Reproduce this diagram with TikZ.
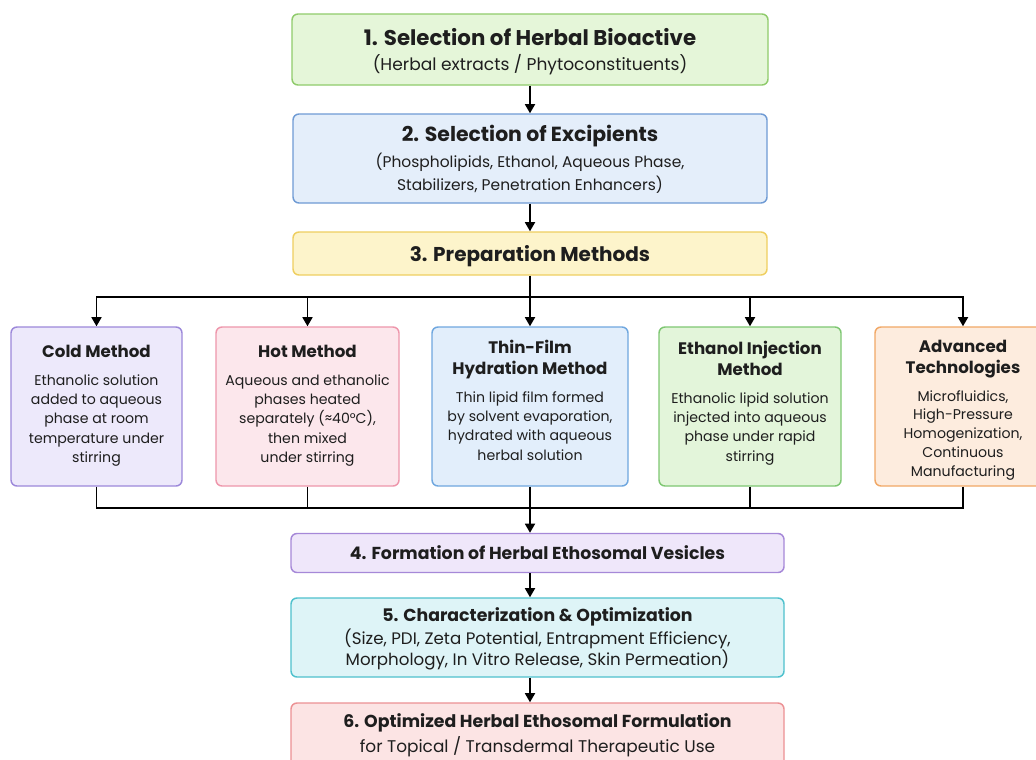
\documentclass[tikz,border=0pt]{standalone}
\usepackage{fontspec}
\setmainfont{Poppins}
\usetikzlibrary{arrows.meta}
\definecolor{fA}{HTML}{E5F6D9}\definecolor{dA}{HTML}{8FCB6B}
\definecolor{fB}{HTML}{E4EEFA}\definecolor{dB}{HTML}{6F9BD4}
\definecolor{fC}{HTML}{FDF4CB}\definecolor{dC}{HTML}{EFCF60}
\definecolor{fCold}{HTML}{EDE9FB}\definecolor{dCold}{HTML}{9C88DA}
\definecolor{fHot}{HTML}{FCE7EC}\definecolor{dHot}{HTML}{EE96AB}
\definecolor{fThin}{HTML}{E2EEFB}\definecolor{dThin}{HTML}{6FA7DF}
\definecolor{fEth}{HTML}{E3F5DA}\definecolor{dEth}{HTML}{7EC772}
\definecolor{fAdv}{HTML}{FDECDE}\definecolor{dAdv}{HTML}{F1A866}
\definecolor{fD}{HTML}{EFE7FA}\definecolor{dD}{HTML}{A688D8}
\definecolor{fE}{HTML}{DEF4F7}\definecolor{dE}{HTML}{4FC1CD}
\definecolor{fF}{HTML}{FCE4E4}\definecolor{dF}{HTML}{EC9194}
\definecolor{txt}{HTML}{1E1E1E}
\newcommand\hT[2]{{\fontsize{#1}{#1}\selectfont\bfseries #2}}
\newcommand\sT[2]{{\fontsize{#1}{#1}\selectfont #2}}
\newcommand\mT[1]{{\fontsize{12.5}{12.5}\selectfont\bfseries #1}}
\newcommand\mB[1]{{\fontsize{10.6}{10.6}\selectfont #1}}
\newcommand\up[1]{\rule{0pt}{#1}}
\newcommand\dn[1]{\rule[-#1]{0pt}{0pt}}
\begin{document}
\begin{tikzpicture}[x=0.75pt,y=-0.75pt,
  stepbox/.style={rounded corners=4.5pt, line width=1.1pt, align=center, inner sep=0pt, text=txt},
  mbox/.style={stepbox, minimum height=119.25pt, font=\fontsize{10.6}{14.4}\selectfont},
  conn/.style={line width=1.3pt, black},
  arr/.style={conn, -{Triangle[width=7.5pt,length=6.8pt]}}]
\useasboundingbox (0,0) rectangle (1036,760);
\fill[white] (0,0) rectangle (1036,760);
% main boxes
\node[stepbox, fill=fA, draw=dA, minimum width=357pt, minimum height=53.25pt, font=\fontsize{12}{17.25}\selectfont] (b1) at (530,49.5)
  {\up{16.5pt}\hT{16}{1. Selection of Herbal Bioactive}\\[1.5pt] \sT{12.8}{(Herbal extracts / Phytoconstituents)}};
\node[stepbox, fill=fB, draw=dB, minimum width=355.5pt, minimum height=66.75pt, font=\fontsize{12}{17.25}\selectfont] (b2) at (530,158.5)
  {\up{13.5pt}\hT{15.3}{2. Selection of Excipients}\\[2.25pt] \sT{11.6}{(Phospholipids, Ethanol, Aqueous Phase,}\\ \sT{11.6}{Stabilizers, Penetration Enhancers)}};
\node[stepbox, fill=fC, draw=dC, minimum width=355.5pt, minimum height=32.25pt] (b3) at (530,253.5)
  {\up{15.5pt}\hT{15}{3. Preparation Methods}};
% method boxes
\node[mbox, fill=fCold, draw=dCold, minimum width=128.25pt] (cold) at (96.5,406.5)
  {\mT{Cold Method}\\[7pt] \mB{Ethanolic solution}\\ \mB{added to aqueous}\\ \mB{phase at room}\\ \mB{temperature under}\\ \mB{stirring}\dn{4.5pt}};
\node[mbox, fill=fHot, draw=dHot, minimum width=137.25pt] (hot) at (307.5,406.5)
  {\mT{Hot Method}\\[7pt] \mB{Aqueous and ethanolic}\\ \mB{phases heated}\\ \mB{separately (≈40°C),}\\ \mB{then mixed}\\ \mB{under stirring}\dn{4.5pt}};
\node[mbox, fill=fThin, draw=dThin, minimum width=147pt] (thin) at (530,406.5)
  {\mT{Thin-Film}\\[1.4pt] \mT{Hydration Method}\\[6.6pt] \mB{Thin lipid film formed}\\ \mB{by solvent evaporation,}\\ \mB{hydrated with aqueous}\\ \mB{herbal solution}\dn{9.5pt}};
\node[mbox, fill=fEth, draw=dEth, minimum width=136.5pt] (eth) at (750,406.5)
  {\mT{Ethanol Injection}\\[1.4pt] \mT{Method}\\[6.6pt] \mB{Ethanolic lipid solution}\\ \mB{injected into aqueous}\\ \mB{phase under rapid}\\ \mB{stirring}\dn{8pt}};
\node[mbox, fill=fAdv, draw=dAdv, minimum width=132pt, font=\fontsize{10.6}{14.1}\selectfont] (adv) at (963,406.5)
  {\up{15pt}\mT{Advanced}\\[1.4pt] \mT{Technologies}\\[6.6pt] \mB{Microfluidics,}\\ \mB{High-Pressure}\\ \mB{Homogenization,}\\ \mB{Continuous}\\ \mB{Manufacturing}};
% lower boxes
\node[stepbox, fill=fD, draw=dD, minimum width=369.75pt, minimum height=29.25pt] (b4) at (537.5,553)
  {\hT{13}{4. Formation of Herbal Ethosomal Vesicles}};
\node[stepbox, fill=fE, draw=dE, minimum width=369.75pt, minimum height=59.25pt, font=\fontsize{12}{15.75}\selectfont] (b5) at (537.5,637.5)
  {\up{12.5pt}\hT{13}{5. Characterization \& Optimization}\\[1.5pt] \sT{12.5}{(Size, PDI, Zeta Potential, Entrapment Efficiency,}\\ \sT{12.5}{Morphology, In Vitro Release, Skin Permeation)}};
\node[stepbox, fill=fF, draw=dF, minimum width=369.75pt, minimum height=48pt, font=\fontsize{12}{17.25}\selectfont] (b6) at (537.5,735)
  {\up{11.5pt}\hT{13}{6. Optimized Herbal Ethosomal Formulation}\\[1.5pt] \sT{12.7}{for Topical / Transdermal Therapeutic Use}};
% connectors
\coordinate (jt) at (530,297);
\coordinate (jb) at (530,508);
\draw[arr] (b1.south) -- (b2.north);
\draw[arr] (b2.south) -- (b3.north);
\draw[conn] (b3.south) -- (jt);
\draw[conn, line cap=rect] (cold.north |- jt) -- (adv.north |- jt);
\foreach \n in {cold,hot,thin,eth,adv} \draw[arr] (\n.north |- jt) -- (\n.north);
\foreach \n in {cold,hot,thin,eth,adv} \draw[conn] (\n.south) -- (\n.south |- jb);
\draw[conn, line cap=rect] (cold.south |- jb) -- (adv.south |- jb);
\draw[arr] (jb) -- (jb |- b4.north);
\draw[arr] (b4.south -| jb) -- (b5.north -| jb);
\draw[arr] (b5.south -| jb) -- (b6.north -| jb);
\end{tikzpicture}
\end{document}
